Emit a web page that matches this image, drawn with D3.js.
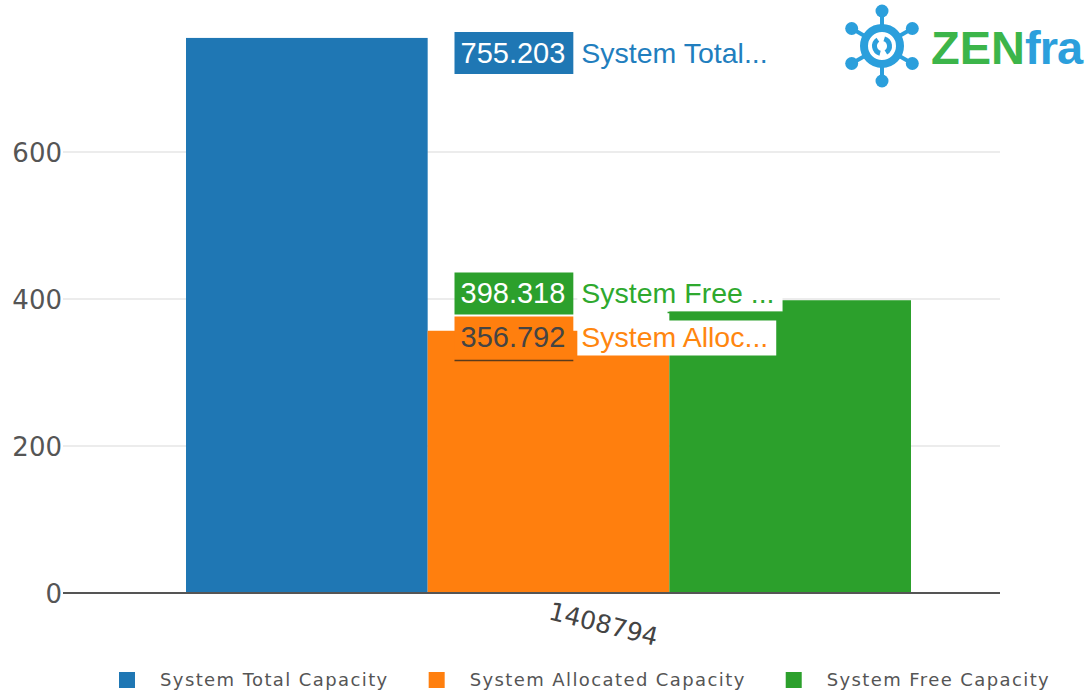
<!DOCTYPE html>
<html>
<head>
    <meta charset="utf-8">
    <title>System Capacity</title>
    <style>
        body { margin: 0; background: #fff; }
        svg { display: block; }
        .tick text { font-family: "DejaVu Sans", Verdana, sans-serif; fill: #555; }
        .hover text { font-family: "Liberation Sans", Arial, sans-serif; }
    </style>
</head>
<body>
    <svg width="1086" height="692"></svg>

    <script src="https://cdn.jsdelivr.net/npm/d3@7"></script>
    <script>

    // chart values
    var categories = ["1408794"];
    var seriesNames = ["System Total Capacity", "System Allocated Capacity", "System Free Capacity"];
    var shortNames = ["System Total...", "System Alloc...", "System Free ..."];
    var seriesValues = [755.203, 356.792, 398.318];
    var seriesColors = ["#1f77b4", "#ff7f0e", "#2ca02c"];
    var yTicks = [0, 200, 400, 600];

    var svg = d3.select("svg"),
        width = +svg.attr("width"),
        height = +svg.attr("height");

    var plotLeft = 63, plotRight = 1000;

    var y = d3.scaleLinear().domain([0, 600]).range([593, 152]);

    var x0 = d3.scaleBand().domain(categories).range([186, 911]).padding(0);
    var x1 = d3.scaleBand().domain(seriesNames).range([0, x0.bandwidth()]).padding(0);

    // grid lines
    svg.append("g")
        .selectAll("line")
        .data(yTicks.filter(function(d) { return d > 0; }))
        .join("line")
        .attr("x1", plotLeft).attr("x2", plotRight)
        .attr("y1", function(d) { return y(d); })
        .attr("y2", function(d) { return y(d); })
        .attr("stroke", "#e6e6e6")
        .attr("stroke-width", 1.5);

    // bars
    var bars = svg.append("g");
    categories.forEach(function(cat) {
        bars.selectAll("rect")
            .data(seriesNames)
            .join("rect")
            .attr("x", function(d) { return x0(cat) + x1(d); })
            .attr("width", x1.bandwidth())
            .attr("y", function(d, i) { return y(seriesValues[i]); })
            .attr("height", function(d, i) { return y(0) - y(seriesValues[i]); })
            .attr("fill", function(d, i) { return seriesColors[i]; });
    });

    // y axis
    var yAxis = d3.axisLeft(y).tickValues(yTicks).tickSize(0).tickPadding(1);
    var gy = svg.append("g")
        .attr("transform", "translate(" + plotLeft + ",0)")
        .call(yAxis);
    gy.select(".domain").remove();
    gy.selectAll("text").style("font-size", "26px").attr("dy", "0.36em");

    // zero line
    svg.append("line")
        .attr("x1", plotLeft).attr("x2", plotRight)
        .attr("y1", y(0)).attr("y2", y(0))
        .attr("stroke", "#555").attr("stroke-width", 2);

    // x axis label (rotated)
    categories.forEach(function(cat) {
        var cx = x0(cat) + x0.bandwidth() / 2;
        svg.append("text")
            .attr("transform", "translate(" + (cx - 1) + "," + (y(0) + 26) + ") rotate(14)")
            .attr("font-family", "DejaVu Sans, Verdana, sans-serif")
            .attr("font-size", "25px")
            .attr("fill", "#444")
            .text(cat);
    });

    // hover labels, spread apart so they do not overlap
    var labelH = 42, labelGap = 2, minCenter = 53;
    var order = d3.range(seriesValues.length).sort(function(a, b) { return seriesValues[b] - seriesValues[a]; });
    var centers = [];
    order.forEach(function(i) { centers[i] = Math.max(minCenter, y(seriesValues[i])); });
    for (var k = 1; k < order.length; k++) {
        var a = order[k - 1], b = order[k];
        var need = labelH + labelGap - (centers[b] - centers[a]);
        if (need > 0) { centers[a] -= need / 2; centers[b] += need / 2; }
    }

    var labelX = x0(categories[0]) + x0.bandwidth() / 2 - 94;
    var hover = svg.append("g").attr("class", "hover");
    seriesValues.forEach(function(v, i) {
        var g = hover.append("g").attr("transform", "translate(" + labelX + "," + centers[i] + ")");
        var dark = i === 1;
        var box = g.append("rect").attr("fill", seriesColors[i]);
        var t = g.append("text")
            .attr("x", 6).attr("y", 10)
            .attr("font-size", "29px")
            .attr("fill", dark ? "#444" : "#fff")
            .text(d3.format(".3f")(v));
        var tw = t.node().getComputedTextLength();
        box.attr("x", 0).attr("y", -21).attr("width", tw + 14).attr("height", labelH);
        var nb = g.append("rect").attr("fill", "#fff");
        var n = g.append("text")
            .attr("x", tw + 22).attr("y", 10)
            .attr("font-size", "28.5px")
            .attr("fill", d3.color(seriesColors[i]).brighter(0.15))
            .text(shortNames[i]);
        var nw = n.node().getComputedTextLength();
        if (i > 0) {
            nb.attr("x", tw + 18).attr("y", -17).attr("width", nw + 12).attr("height", 35);
        }
        if (dark) {
            g.append("line").attr("x1", 0).attr("x2", tw + 14).attr("y1", 23).attr("y2", 23)
                .attr("stroke", "#5a3b1c").attr("stroke-width", 1.5);
        }
        if (i === 2) {
            g.append("line").attr("x1", tw + 18 + nw + 12 - 115).attr("x2", tw + 18 + nw + 12).attr("y1", 19).attr("y2", 19)
                .attr("stroke", "#2ca02c").attr("stroke-width", 1.5);
        }
    });

    // legend
    var legend = svg.append("g").attr("transform", "translate(119,672)");
    var lx = 0;
    seriesNames.forEach(function(name, i) {
        var item = legend.append("g").attr("transform", "translate(" + lx + ",0)");
        item.append("rect").attr("width", 16).attr("height", 16).attr("fill", seriesColors[i]);
        var t = item.append("text")
            .attr("x", 41).attr("y", 14)
            .attr("font-family", "DejaVu Sans, Verdana, sans-serif")
            .attr("font-size", "18px")
            .attr("letter-spacing", "1.4px")
            .attr("fill", "#555")
            .text(name);
        lx += 41 + t.node().getComputedTextLength() + 40;
    });

    // logo
    var logo = svg.append("g").attr("transform", "translate(882,46)");
    var iconBlue = "#2b9fdc";
    d3.range(6).forEach(function(j) {
        var ang = (j * 60 - 90) * Math.PI / 180;
        var r = 35;
        logo.append("line")
            .attr("x1", 0).attr("y1", 0)
            .attr("x2", r * Math.cos(ang)).attr("y2", r * Math.sin(ang))
            .attr("stroke", iconBlue).attr("stroke-width", 4);
        logo.append("circle")
            .attr("cx", r * Math.cos(ang)).attr("cy", r * Math.sin(ang))
            .attr("r", 6.5).attr("fill", iconBlue);
    });
    logo.append("circle").attr("r", 18).attr("fill", "#fff").attr("stroke", iconBlue).attr("stroke-width", 8);
    var arc = d3.arc().innerRadius(5).outerRadius(10);
    logo.append("path").attr("d", arc({startAngle: 0.3, endAngle: 2.6})).attr("fill", iconBlue);
    logo.append("path").attr("d", arc({startAngle: 3.4, endAngle: 5.7})).attr("fill", iconBlue);
    var logoText = svg.append("text")
        .attr("x", 931).attr("y", 64)
        .attr("font-family", "Liberation Sans, Arial, sans-serif")
        .attr("font-weight", "bold")
        .attr("font-size", "47px");
    logoText.append("tspan").attr("fill", "#3cb54a").text("ZEN");
    logoText.append("tspan").attr("fill", "#2b9fdc").attr("letter-spacing", "-1").text("fra");

    </script>
</body>
</html>
